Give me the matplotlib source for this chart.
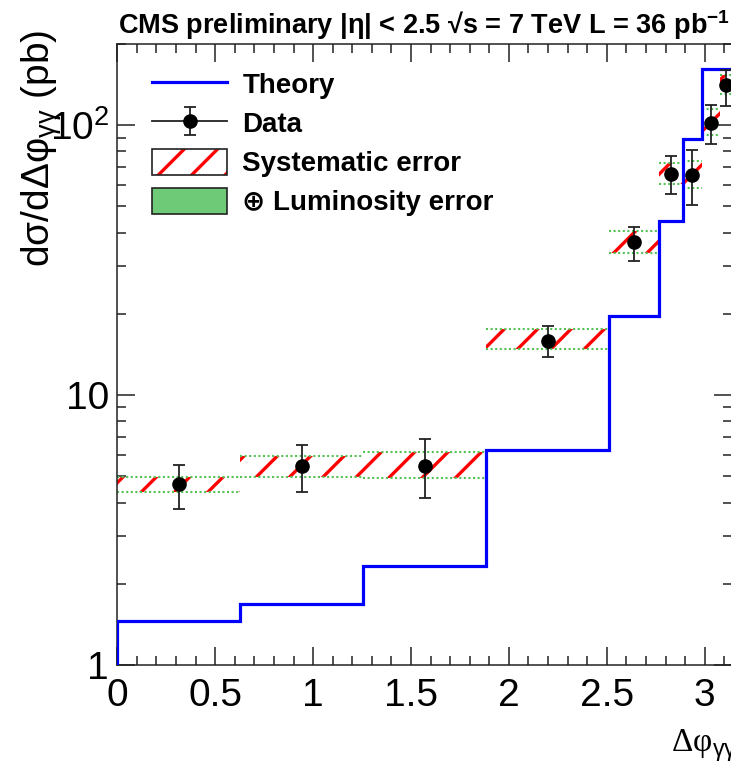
import numpy as np
import matplotlib
matplotlib.use('Agg')
import matplotlib.pyplot as plt
from matplotlib.patches import Patch
from matplotlib.lines import Line2D
from matplotlib.ticker import MultipleLocator, LogLocator, NullFormatter, FixedLocator, FixedFormatter

# bin edges in delta phi (rad)
edges = [0.0, 0.628, 1.257, 1.885, 2.513, 2.765, 2.890, 2.985, 3.079, 3.1416]
theory = [1.45, 1.68, 2.33, 6.26, 19.7, 44.2, 88.8, 162, 162]
data_y = [4.68, 5.46, 5.46, 15.9, 36.8, 65.8, 65.3, 102, 140.7]
data_up = [5.51, 6.51, 6.87, 18.0, 41.8, 77.0, 80.8, 118.6, 160]
data_dn = [3.77, 4.36, 4.17, 13.9, 31.3, 55.8, 50.6, 85.0, 117.8]
sys_lo = [4.37, 4.97, 4.91, 14.8, 33.5, 60.8, 58.5, 92.3, 130]
sys_hi = [4.97, 5.94, 6.17, 17.6, 40.5, 72.3, 74.0, 114.6, 154]

plt.rcParams['font.family'] = ['Liberation Sans', 'DejaVu Sans']
plt.rcParams['mathtext.fontset'] = 'custom'
plt.rcParams['mathtext.rm'] = 'Liberation Sans'
plt.rcParams['mathtext.it'] = 'Liberation Sans:italic'
plt.rcParams['mathtext.bf'] = 'Liberation Sans:bold'
plt.rcParams['hatch.linewidth'] = 2.4

W, H = 731, 762
fig = plt.figure(figsize=(W / 100, H / 100), dpi=100)
ax = fig.add_axes([117.3 / W, 97 / H, 615.1 / W, 621 / H])

edges = np.array(edges)
lefts = edges[:-1]
widths = np.diff(edges)
centers = lefts + widths / 2
data_y = np.array(data_y)
sys_lo = np.array(sys_lo)
sys_hi = np.array(sys_hi)

# systematic band (red hatch) + luminosity edges (green dotted)
ax.bar(lefts, sys_hi - sys_lo, width=widths, bottom=sys_lo, align='edge',
       fill=False, hatch='/', edgecolor='red', linewidth=0, zorder=2)
ax.hlines(sys_hi, lefts, edges[1:], colors='#55c255', linestyles=(0, (1, 1.2)), lw=1.5, zorder=2)
ax.hlines(sys_lo, lefts, edges[1:], colors='#55c255', linestyles=(0, (1, 1.2)), lw=1.5, zorder=2)

# theory histogram
ax.stairs(theory, edges, color='blue', lw=2.3, zorder=3)

# data
eb = ax.errorbar(centers, data_y,
                 yerr=[data_y - np.array(data_dn), np.array(data_up) - data_y],
                 fmt='o', color='black', ecolor='#222222', ms=9.5, elinewidth=1.3,
                 capsize=4, capthick=1.3, zorder=4)

ax.set_xlim(0, 3.1416)
ax.set_yscale('log')
ax.set_ylim(1, 200)

ax.xaxis.set_major_locator(MultipleLocator(0.5))
ax.xaxis.set_minor_locator(MultipleLocator(0.1))
ax.xaxis.set_major_formatter(plt.FuncFormatter(lambda v, p: '%g' % v))
ax.yaxis.set_major_locator(FixedLocator([1, 10, 100]))
ax.yaxis.set_major_formatter(FixedFormatter(['1', '10', '$10^2$']))
ax.yaxis.set_minor_locator(LogLocator(base=10, subs=np.arange(2, 10)))
ax.yaxis.set_minor_formatter(NullFormatter())

ax.tick_params(which='both', direction='in', top=True, right=True, width=1.1, color='#222222')
ax.tick_params(which='major', length=13)
ax.tick_params(which='minor', length=6.5)
ax.tick_params(axis='x', which='major', labelsize=28, pad=9)
ax.tick_params(axis='y', which='major', labelsize=28, pad=6)
for s in ax.spines.values():
    s.set_linewidth(1.1)
    s.set_color('#222222')

# legend
theory_h = Line2D([], [], color='blue', lw=2.3)
data_h = (Line2D([], [], color='#222222', lw=1.3), eb)
sys_h = (Patch(fill=False, hatch='/', edgecolor='red', lw=0),
         Patch(fill=False, edgecolor='#222222', lw=1.2))
lumi_h = Patch(facecolor='#6fca78', edgecolor='#222222', lw=1.2)
leg = ax.legend([theory_h, data_h, sys_h, lumi_h],
                ['Theory', 'Data', 'Systematic error', '\u2295 Luminosity error'],
                loc='upper left', bbox_to_anchor=(152 / W, 1 - 71 / H),
                bbox_transform=fig.transFigure, frameon=False,
                prop={'size': 20, 'weight': 'bold'}, borderpad=0, borderaxespad=0,
                handlelength=2.7, handleheight=1.05, handletextpad=0.55, labelspacing=0.38)

fig.text(118 / W, 1 - 34 / H,
         'CMS preliminary |\u03b7| < 2.5 \u221as = 7 TeV L = 36 pb$^{\\mathbf{-1}}$',
         fontsize=19.5, fontweight='bold', va='baseline', ha='left')

fig.text(42 / W, 1 - 30 / H, 'd\u03c3/d\u0394\u03c6$_{\\mathrm{\\gamma\\gamma}}$ (pb)',
         fontsize=28, rotation=90, ha='center', va='top')

fig.text(671 / W, 1 - 752 / H, '\u0394\u03c6$_{\\mathrm{\\gamma\\gamma}}$',
         fontsize=24, family=['Liberation Serif', 'DejaVu Serif'], ha='left', va='baseline')

fig.savefig('out.png', dpi=100)
